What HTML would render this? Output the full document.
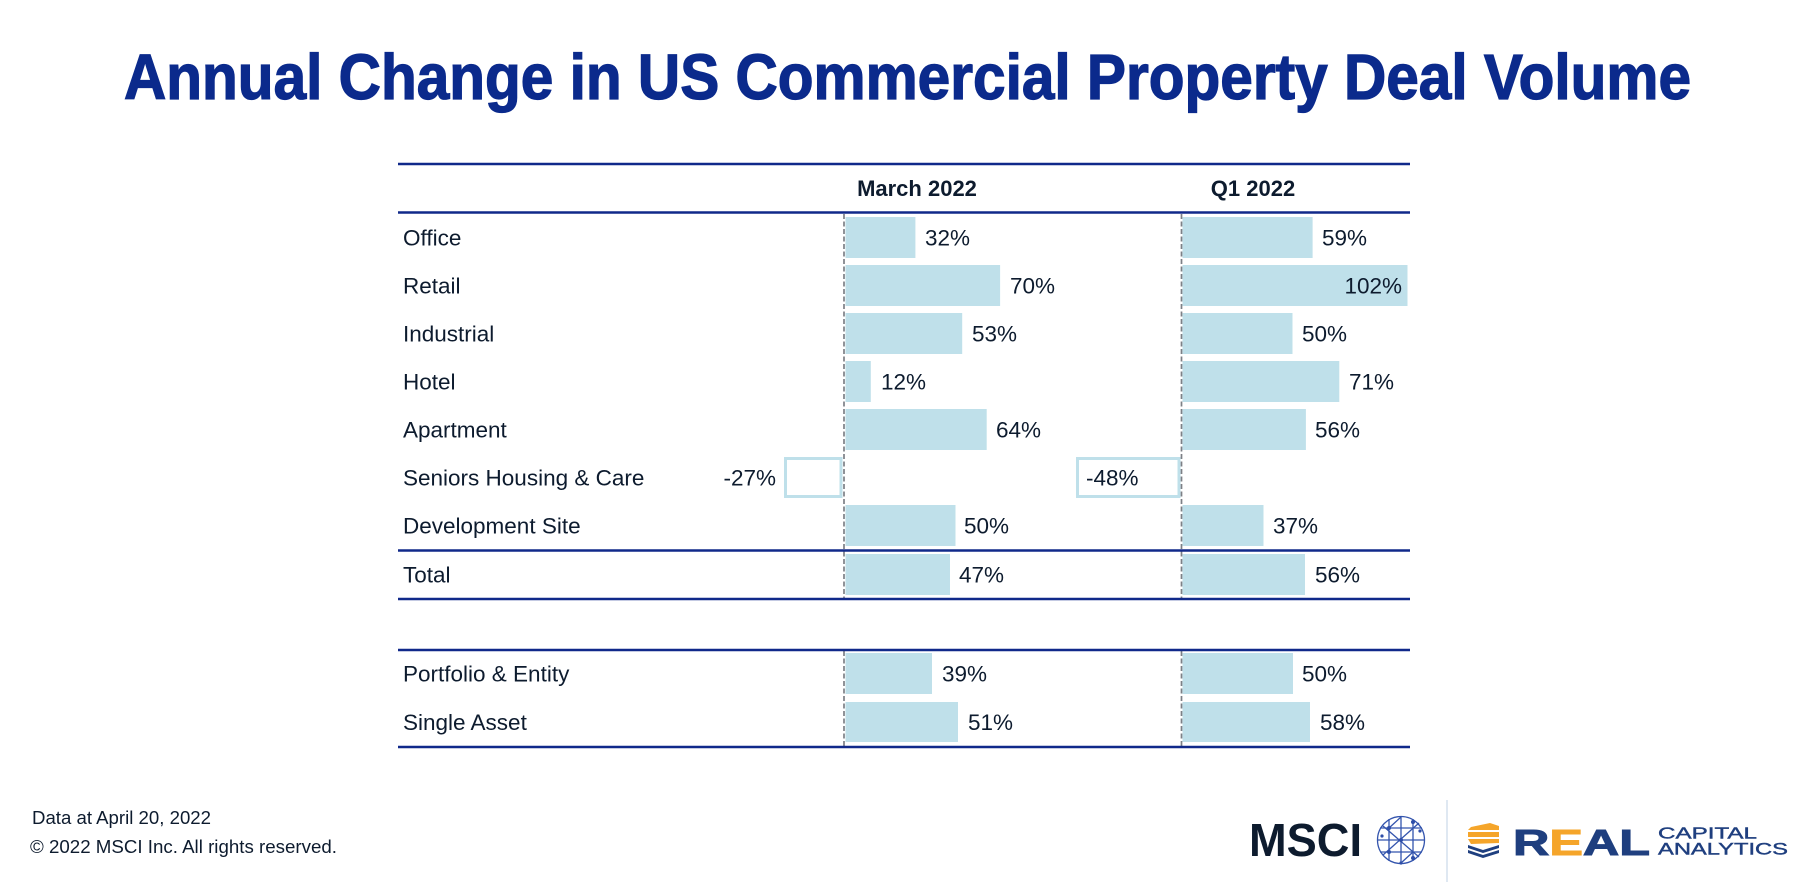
<!DOCTYPE html>
<html>
<head>
<meta charset="utf-8">
<style>
  html,body{margin:0;padding:0;background:#ffffff;}
  body{width:1814px;height:888px;overflow:hidden;}
  svg{display:block;}
  .lbl{font-family:"Liberation Sans",Arial,sans-serif;font-size:22.5px;fill:#0d1b2e;}
  .hdr{font-family:"Liberation Sans",Arial,sans-serif;font-size:22px;font-weight:bold;fill:#0d1b2e;}
  .foot{font-family:"Liberation Sans",Arial,sans-serif;font-size:18px;fill:#0d1b2e;}
</style>
</head>
<body>
<svg width="1814" height="888" viewBox="0 0 1814 888" xmlns="http://www.w3.org/2000/svg">
  <rect x="0" y="0" width="1814" height="888" fill="#ffffff"/>

  <!-- Title -->
  <text x="124" y="99" textLength="1567" lengthAdjust="spacingAndGlyphs"
        font-family="'Liberation Sans', Arial, sans-serif" font-weight="bold" font-size="64" fill="#0b2a8c"
        stroke="#0b2a8c" stroke-width="1.3">Annual Change in US Commercial Property Deal Volume</text>

  <!-- Header -->
  <text class="hdr" x="917" y="196" text-anchor="middle">March 2022</text>
  <text class="hdr" x="1253" y="196" text-anchor="middle">Q1 2022</text>

  <!-- Bars -->
  <g fill="#bfe0ea">
    <rect x="845.5" y="217" width="69.9" height="41"/>
    <rect x="1182.5" y="217" width="130.1" height="41"/>
    <rect x="845.5" y="265" width="154.6" height="41"/>
    <rect x="1182.5" y="265" width="225" height="41"/>
    <rect x="845.5" y="313" width="116.7" height="41"/>
    <rect x="1182.5" y="313" width="110" height="41"/>
    <rect x="845.5" y="361" width="25.3" height="41"/>
    <rect x="1182.5" y="361" width="156.8" height="41"/>
    <rect x="845.5" y="409" width="141.2" height="41"/>
    <rect x="1182.5" y="409" width="123.4" height="41"/>
    <rect x="845.5" y="505" width="110" height="41"/>
    <rect x="1182.5" y="505" width="81" height="41"/>
    <rect x="845.5" y="554" width="104.5" height="41"/>
    <rect x="1182.5" y="554" width="122.5" height="41"/>
    <rect x="845.5" y="653" width="86.5" height="41"/>
    <rect x="1182.5" y="653" width="110.5" height="41"/>
    <rect x="845.5" y="702" width="112.5" height="40"/>
    <rect x="1182.5" y="702" width="127.5" height="40"/>
  </g>
  <rect x="785.5" y="458.5" width="55.5" height="38" fill="#ffffff" stroke="#bfe0ea" stroke-width="3"/>
  <rect x="1077.5" y="458.5" width="101.5" height="38" fill="#ffffff" stroke="#bfe0ea" stroke-width="3"/>

  <!-- Dashed axes -->
  <g stroke="#7d8086" stroke-width="1.7" stroke-dasharray="5 2.5">
    <line x1="844" y1="214" x2="844" y2="599"/>
    <line x1="1181.5" y1="214" x2="1181.5" y2="599"/>
    <line x1="844" y1="651" x2="844" y2="747"/>
    <line x1="1181.5" y1="651" x2="1181.5" y2="747"/>
  </g>

  <!-- Navy rules -->
  <g stroke="#10298a" stroke-width="2.6">
    <line x1="398" y1="164" x2="1410" y2="164"/>
    <line x1="398" y1="212.5" x2="1410" y2="212.5"/>
    <line x1="398" y1="550.5" x2="1410" y2="550.5"/>
    <line x1="398" y1="599" x2="1410" y2="599"/>
    <line x1="398" y1="650" x2="1410" y2="650"/>
    <line x1="398" y1="747" x2="1410" y2="747"/>
  </g>

  <!-- Row labels -->
  <text class="lbl" x="403" y="245.5">Office</text>
  <text class="lbl" x="403" y="293.5">Retail</text>
  <text class="lbl" x="403" y="341.5">Industrial</text>
  <text class="lbl" x="403" y="389.5">Hotel</text>
  <text class="lbl" x="403" y="437.5">Apartment</text>
  <text class="lbl" x="403" y="485.5">Seniors Housing &amp; Care</text>
  <text class="lbl" x="403" y="533.5">Development Site</text>
  <text class="lbl" x="403" y="582.5">Total</text>
  <text class="lbl" x="403" y="681.5">Portfolio &amp; Entity</text>
  <text class="lbl" x="403" y="730">Single Asset</text>

  <!-- March values -->
  <text class="lbl" x="925" y="245.5">32%</text>
  <text class="lbl" x="1010" y="293.5">70%</text>
  <text class="lbl" x="972" y="341.5">53%</text>
  <text class="lbl" x="881" y="389.5">12%</text>
  <text class="lbl" x="996" y="437.5">64%</text>
  <text class="lbl" x="776" y="485.5" text-anchor="end">-27%</text>
  <text class="lbl" x="964" y="533.5">50%</text>
  <text class="lbl" x="959" y="582.5">47%</text>
  <text class="lbl" x="942" y="681.5">39%</text>
  <text class="lbl" x="968" y="730">51%</text>

  <!-- Q1 values -->
  <text class="lbl" x="1322" y="245.5">59%</text>
  <text class="lbl" x="1402" y="293.5" text-anchor="end">102%</text>
  <text class="lbl" x="1302" y="341.5">50%</text>
  <text class="lbl" x="1349" y="389.5">71%</text>
  <text class="lbl" x="1315" y="437.5">56%</text>
  <text class="lbl" x="1086" y="485.5">-48%</text>
  <text class="lbl" x="1273" y="533.5">37%</text>
  <text class="lbl" x="1315" y="582.5">56%</text>
  <text class="lbl" x="1302" y="681.5">50%</text>
  <text class="lbl" x="1320" y="730">58%</text>

  <!-- Footer -->
  <text class="foot" x="32" y="824" textLength="179" lengthAdjust="spacingAndGlyphs">Data at April 20, 2022</text>
  <text class="foot" x="30" y="853" textLength="307" lengthAdjust="spacingAndGlyphs">© 2022 MSCI Inc. All rights reserved.</text>

  <!-- MSCI logo -->
  <text x="1249" y="856" textLength="113" lengthAdjust="spacingAndGlyphs"
        font-family="'Liberation Sans', Arial, sans-serif" font-weight="bold" font-size="46" fill="#0d1b2e">MSCI</text>
  <g stroke="#3354ad" stroke-width="1.3" fill="none">
    <circle cx="1401" cy="840" r="23.5"/>
    <line x1="1389" y1="819" x2="1389" y2="861"/>
    <line x1="1401" y1="817" x2="1401" y2="863"/>
    <line x1="1413" y1="819" x2="1413" y2="861"/>
    <line x1="1380" y1="828" x2="1422" y2="828"/>
    <line x1="1378" y1="840" x2="1424" y2="840"/>
    <line x1="1380" y1="852" x2="1422" y2="852"/>
    <line x1="1383" y1="826" x2="1419" y2="857"/>
    <line x1="1419" y1="823" x2="1383" y2="855"/>
    <line x1="1389" y1="828" x2="1401" y2="817"/>
    <line x1="1413" y1="852" x2="1401" y2="863"/>
  </g>
  <g fill="#2e4ea8">
    <circle cx="1389" cy="828" r="2"/>
    <circle cx="1413" cy="822" r="2"/>
    <circle cx="1401" cy="840" r="2"/>
    <circle cx="1389" cy="852" r="2"/>
    <circle cx="1413" cy="858" r="2"/>
    <circle cx="1420" cy="831" r="1.6"/>
    <circle cx="1382" cy="836" r="1.6"/>
    <circle cx="1401" cy="863" r="1.6"/>
  </g>

  <!-- Divider -->
  <line x1="1447" y1="800" x2="1447" y2="882" stroke="#c9d9e8" stroke-width="1.2"/>

  <!-- REAL icon -->
  <g>
    <polygon points="1490,823 1499,826 1499,830 1468,830 1471,827" fill="#f5a52a"/>
    <polygon points="1468,832 1499,832 1499,837 1468,837" fill="#f5a52a"/>
    <polygon points="1468,839 1499,839 1499,843 1471,844" fill="#f5a52a"/>
    <polygon points="1468,845 1483,850 1499,845 1499,848 1483,853 1468,848" fill="#1f3f7f"/>
    <polygon points="1468,850 1483,855 1499,850 1499,853 1483,858 1468,853" fill="#1f3f7f"/>
  </g>
  <text x="1513" y="855" textLength="137" lengthAdjust="spacingAndGlyphs"
        font-family="'Liberation Sans', Arial, sans-serif" font-weight="bold" font-size="36" fill="#1f3f7f"
        stroke="#1f3f7f" stroke-width="1">R<tspan fill="#f5a52a" stroke="#f5a52a">E</tspan>AL</text>
  <text x="1658" y="838.5" textLength="99" lengthAdjust="spacingAndGlyphs"
        font-family="'Liberation Sans', Arial, sans-serif" font-size="15.5" fill="#1f3f7f" stroke="#1f3f7f" stroke-width="0.4">CAPITAL</text>
  <text x="1658" y="854.5" textLength="130" lengthAdjust="spacingAndGlyphs"
        font-family="'Liberation Sans', Arial, sans-serif" font-size="16.5" fill="#1f3f7f" stroke="#1f3f7f" stroke-width="0.4">ANALYTICS</text>
</svg>
</body>
</html>
